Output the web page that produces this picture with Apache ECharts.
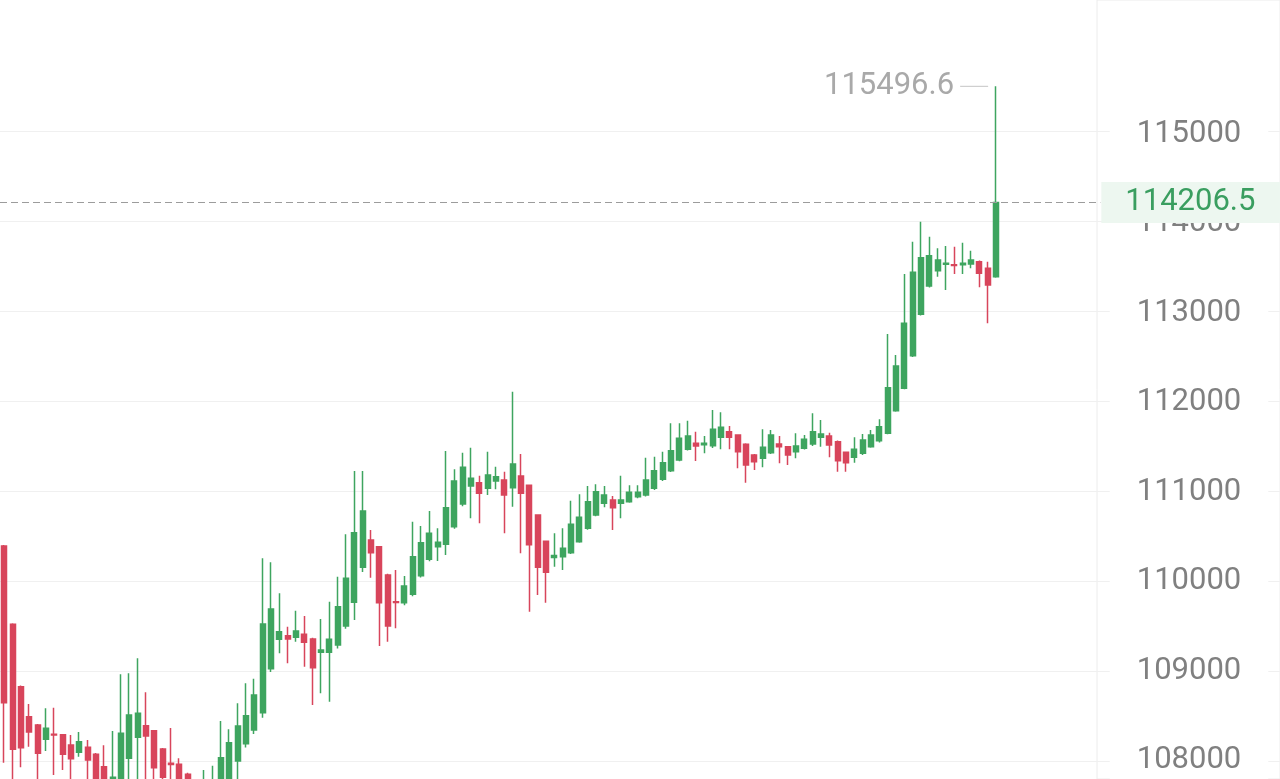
<!DOCTYPE html>
<html>
<head>
<meta charset="utf-8">
<script src="https://cdn.jsdelivr.net/npm/echarts@6/dist/echarts.min.js"></script>
<style>
html,body{margin:0;padding:0;background:#fff;}
#chart{width:1280px;height:779px;}
</style>
</head>
<body>
<div id="chart"></div>
<script>
// OHLC values (index 0 = leftmost candle)
const opens = [110389,109519,108826,108492,108400,108241,108296,108293,108178,108097,
  108152,108074,107937,107650,107750,108030,108263,108392,108337,108133,
  107974,107963,107852,107720,107600,107650,107700,107750,108000,108192,
  108344,108537,109026,109352,109393,109374,109408,109356,109208,109208,
  109289,109500,109763,110152,110456,110381,110067,109770,109759,109852,
  110059,110241,110381,110408,110603,110856,111056,111093,111030,111111,
  111122,111037,111167,111063,110733,110441,110261,110270,110314,110437,
  110586,110733,110863,110900,110863,110881,110937,110956,111030,111130,
  111226,111345,111463,111530,111515,111504,111596,111659,111622,111519,
  111400,111363,111426,111522,111492,111437,111474,111522,111596,111611,
  111548,111430,111374,111419,111492,111559,111641,111892,112141,112504,
  112963,113278,113448,113520,113515,113515,113522,113548,113474,113381];
const closes = [108648,108130,108148,108322,108085,108363,108290,108074,108026,108215,
  108011,107750,107760,107820,108308,108511,108530,108278,107926,107819,
  107960,107780,107780,107690,107750,107780,108037,108203,108389,108503,
  108733,109522,109689,109436,109355,109444,109319,109037,109233,109352,
  109715,110030,110537,110778,110314,109759,109500,109760,109944,110270,
  110426,110530,110430,110815,111111,111263,111141,110974,111178,111159,
  110956,111300,110974,110404,110152,110097,110283,110363,110630,110708,
  110881,110992,110956,110815,110900,110985,110985,111122,111226,111315,
  111448,111586,111611,111500,111530,111685,111708,111596,111437,111289,
  111326,111485,111622,111492,111400,111500,111574,111659,111633,111511,
  111337,111315,111463,111567,111622,111715,112148,112389,112863,113430,
  113592,113615,113567,113530,113505,113530,113567,113419,113289,114206.5];
const lows = [107981,107750,107930,108159,107780,108111,107845,107900,107780,108048,
  107790,107700,107700,107600,107700,107780,107790,107790,107790,107780,
  107780,107700,107700,107620,107550,107600,107650,107700,107800,108150,
  108300,108480,108990,109197,109086,109326,109048,108622,108752,108659,
  109250,109470,109567,110100,110037,109278,109326,109475,109730,109830,
  110040,110220,110222,110289,110580,110830,110697,110641,110956,111019,
  110530,110826,110308,109659,109845,109759,110159,110122,110300,110426,
  110570,110720,110819,110567,110697,110870,110920,110940,111010,111110,
  111210,111330,111450,111333,111419,111478,111463,111463,111252,111093,
  111233,111263,111410,111308,111289,111363,111460,111500,111492,111374,
  111215,111215,111315,111400,111480,111540,111630,111880,112130,112490,
  112950,113260,113381,113233,113411,113411,113474,113263,112863,113370];
const highs = [110400,109530,108840,108633,108410,108586,108592,108300,108289,108322,
  108233,108090,108174,108333,108963,108974,109141,108763,108345,108145,
  108367,108030,107870,107760,107900,107948,108444,108352,108641,108863,
  108915,110252,110207,109863,109492,109670,109611,109370,109578,109770,
  110048,110519,111222,111222,110567,110390,110080,110122,110056,110659,
  110611,110778,110586,111444,111241,111426,111481,111170,111437,111270,
  111215,112104,111411,111070,110740,110450,110530,110586,110892,110963,
  111056,111074,111056,110944,111170,111063,111063,111370,111381,111437,
  111752,111752,111781,111659,111611,111900,111874,111722,111630,111530,
  111410,111685,111678,111611,111500,111641,111622,111863,111789,111648,
  111560,111440,111596,111633,111678,111796,112744,112511,113411,113770,
  113992,113826,113696,113722,113715,113759,113670,113560,113548,115496.6];
const yTicks = [108000, 109000, 110000, 111000, 112000, 113000, 114000, 115000];
const categories = opens.map((_, i) => String(i + 1));

const candleData = opens.map((o, i) => [o, closes[i], lows[i], highs[i]]);
const lastClose = closes[closes.length - 1];

const chart = echarts.init(document.getElementById('chart'), null, {renderer: 'canvas'});
const labelFont = 'Roboto, "Noto Sans", sans-serif';
const GREEN = '#3ea55f';
const RED = '#d8455b';

chart.setOption({
  animation: false,
  backgroundColor: '#ffffff',
  grid: [
    // candles (value range 108000..116000 so the high marker stays inside)
    {left: -1.67, top: 41, width: 1102, height: 720},
    // horizontal grid lines, full width
    {left: 0, top: 131, right: 0, height: 630},
    // vertical border of the price column
    {left: 1097, top: -10, right: -10, bottom: -10, show: true, borderColor: '#ececec', borderWidth: 1, backgroundColor: 'transparent'},
    // price labels (nudged to match the glyph baseline of the reference)
    {left: 0, top: 134, right: 0, height: 630}
  ],
  xAxis: [
    {type: 'category', gridIndex: 0, data: categories, max: 131, show: false},
    {type: 'value', gridIndex: 1, show: false},
    {type: 'value', gridIndex: 2, show: false},
    {type: 'value', gridIndex: 3, show: false}
  ],
  yAxis: [
    {
      type: 'value', gridIndex: 0, position: 'right',
      min: 108000, max: 116000, interval: 1000, show: false,
      splitLine: {show: false}
    },
    {
      type: 'value', gridIndex: 1, position: 'right',
      min: yTicks[0], max: yTicks[yTicks.length - 1], interval: 1000,
      axisLine: {show: false}, axisTick: {show: false}, axisLabel: {show: false},
      splitLine: {show: true, lineStyle: {color: '#f0f0f0', width: 1}}
    },
    {type: 'value', gridIndex: 2, show: false},
    {
      type: 'value', gridIndex: 3, position: 'right',
      min: yTicks[0], max: yTicks[yTicks.length - 1], interval: 1000,
      axisLine: {show: false}, axisTick: {show: false}, splitLine: {show: false},
      axisLabel: {
        show: true, inside: true, align: 'center', margin: 91,
        formatter: (v) => String(v),
        fontFamily: labelFont, fontSize: 31, color: '#808080',
        backgroundColor: '#ffffff', padding: [3, 27, 3, 27]
      }
    }
  ],
  series: [{
    type: 'candlestick',
    xAxisIndex: 0, yAxisIndex: 0,
    data: candleData,
    clip: false,
    barWidth: 5.5,
    itemStyle: {
      color: GREEN, color0: RED,
      borderColor: GREEN, borderColor0: RED,
      borderWidth: 1.5
    },
    markLine: {
      silent: true,
      symbol: ['none', 'none'],
      lineStyle: {color: '#9c9c9c', width: 1, type: [7, 4]},
      label: {
        show: true, position: 'end', distance: 1,
        formatter: (p) => String(p.value),
        fontFamily: labelFont, fontSize: 31, lineHeight: 35,
        color: '#3a9e60', backgroundColor: '#edf7f0',
        padding: [3, 30, 3, 24]
      },
      data: [{yAxis: lastClose}]
    },
    markPoint: {
      silent: true,
      symbol: 'rect',
      symbolSize: [28, 1],
      symbolOffset: [-22, 0],
      itemStyle: {color: '#c4c4c4'},
      label: {
        show: true, position: 'left', distance: 6,
        formatter: (p) => String(p.value),
        fontFamily: labelFont, fontSize: 31, color: '#a9a9a9'
      },
      data: [{type: 'max', valueDim: 'highest'}]
    }
  }]
});
</script>
</body>
</html>
